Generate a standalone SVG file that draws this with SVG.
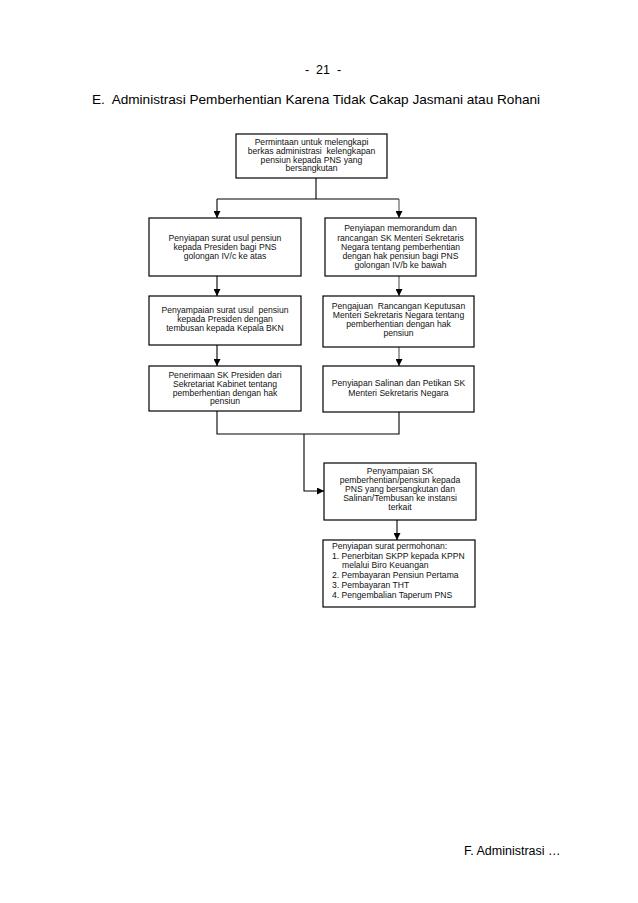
<svg xmlns="http://www.w3.org/2000/svg" width="638" height="903" viewBox="0 0 638 903">
<style>
.box{fill:#fff;stroke:#000;stroke-width:1.2}
.t{font-family:"Liberation Sans",Arial,sans-serif;font-size:8.6px;fill:#111}
.c{text-anchor:middle}
.ln{fill:none;stroke:#000;stroke-width:1.1}
.g{stroke:#555}
.h{font-family:"Liberation Sans",Arial,sans-serif;fill:#000}
</style>
<defs>
<marker id="ah" viewBox="0 0 8 8" refX="8" refY="4" markerWidth="7" markerHeight="7" markerUnits="userSpaceOnUse" orient="auto">
<path d="M0,0 L8,4 L0,8 z" fill="#000"/>
</marker>
</defs>
<rect width="638" height="903" fill="#fff"/>
<text class="h" x="323" y="74" font-size="12.5" text-anchor="middle">-&#160; 21&#160; -</text>
<text class="h" x="92" y="104" font-size="13.6">E.&#160; Administrasi Pemberhentian Karena Tidak Cakap Jasmani atau Rohani</text>
<text class="h" x="464" y="855" font-size="12.5">F. Administrasi …</text>

<g id="connectors">
<path class="ln" d="M316,178 V199 M217,199 H399"/>
<path class="ln" d="M217,199 V218" marker-end="url(#ah)"/>
<path class="ln g" d="M399,199 V218" marker-end="url(#ah)"/>
<path class="ln" d="M217,276 V296" marker-end="url(#ah)"/>
<path class="ln g" d="M399,276 V296" marker-end="url(#ah)"/>
<path class="ln" d="M217,345 V366" marker-end="url(#ah)"/>
<path class="ln g" d="M399,347 V366" marker-end="url(#ah)"/>
<path class="ln" d="M217,411 V434 H399 V412"/>
<path class="ln" d="M304,434 V491 H324" marker-end="url(#ah)"/>
<path class="ln" d="M397,520 V540" marker-end="url(#ah)"/>
</g>

<g id="n1">
<rect class="box" x="236" y="134" width="151" height="44"/>
<text class="t c" x="311.5" y="145">Permintaan untuk melengkapi</text>
<text class="t c" x="311.5" y="154">berkas administrasi&#160; kelengkapan</text>
<text class="t c" x="311.5" y="162.5">pensiun kepada PNS yang</text>
<text class="t c" x="311.5" y="171">bersangkutan</text>
</g>

<g id="n2">
<rect class="box" x="149" y="218" width="152" height="58"/>
<text class="t c" x="225" y="241">Penyiapan surat usul pensiun</text>
<text class="t c" x="225" y="250">kepada Presiden bagi PNS</text>
<text class="t c" x="225" y="259">golongan IV/c ke atas</text>
</g>

<g id="n3">
<rect class="box" x="325" y="218" width="151" height="58"/>
<text class="t c" x="400.5" y="231">Penyiapan memorandum dan</text>
<text class="t c" x="400.5" y="241">rancangan SK Menteri Sekretaris</text>
<text class="t c" x="400.5" y="250">Negara tentang pemberhentian</text>
<text class="t c" x="400.5" y="259">dengan hak pensiun bagi PNS</text>
<text class="t c" x="400.5" y="268">golongan IV/b ke bawah</text>
</g>

<g id="n4">
<rect class="box" x="149" y="296" width="152" height="49"/>
<text class="t c" x="225" y="313">Penyampaian surat usul&#160; pensiun</text>
<text class="t c" x="225" y="322">kepada Presiden dengan</text>
<text class="t c" x="225" y="331">tembusan kepada Kepala BKN</text>
</g>

<g id="n5">
<rect class="box" x="323" y="296" width="151" height="51"/>
<text class="t c" x="398.5" y="309">Pengajuan&#160; Rancangan Keputusan</text>
<text class="t c" x="398.5" y="318">Menteri Sekretaris Negara tentang</text>
<text class="t c" x="398.5" y="327">pemberhentian dengan hak</text>
<text class="t c" x="398.5" y="336">pensiun</text>
</g>

<g id="n6">
<rect class="box" x="149" y="366" width="152" height="45"/>
<text class="t c" x="225" y="378">Penerimaan SK Presiden dari</text>
<text class="t c" x="225" y="386.5">Sekretariat Kabinet tentang</text>
<text class="t c" x="225" y="395.5">pemberhentian dengan hak</text>
<text class="t c" x="225" y="404">pensiun</text>
</g>

<g id="n7">
<rect class="box" x="323" y="366" width="151" height="46"/>
<text class="t c" x="398.5" y="386">Penyiapan Salinan dan Petikan SK</text>
<text class="t c" x="398.5" y="396">Menteri Sekretaris Negara</text>
</g>

<g id="n8">
<rect class="box" x="324" y="463" width="152" height="57"/>
<text class="t c" x="400" y="474">Penyampaian SK</text>
<text class="t c" x="400" y="482.5">pemberhentian/pensiun kepada</text>
<text class="t c" x="400" y="491.5">PNS yang bersangkutan dan</text>
<text class="t c" x="400" y="500.5">Salinan/Tembusan ke instansi</text>
<text class="t c" x="400" y="509.5">terkait</text>
</g>

<g id="n9">
<rect class="box" x="323" y="540" width="152" height="67"/>
<text class="t" x="332" y="549">Penyiapan surat permohonan:</text>
<text class="t" x="332" y="558.5">1. Penerbitan SKPP kepada KPPN</text>
<text class="t" x="342" y="568">melalui Biro Keuangan</text>
<text class="t" x="332" y="578">2. Pembayaran Pensiun Pertama</text>
<text class="t" x="332" y="588">3. Pembayaran THT</text>
<text class="t" x="332" y="598">4. Pengembalian Taperum PNS</text>
</g>
</svg>
